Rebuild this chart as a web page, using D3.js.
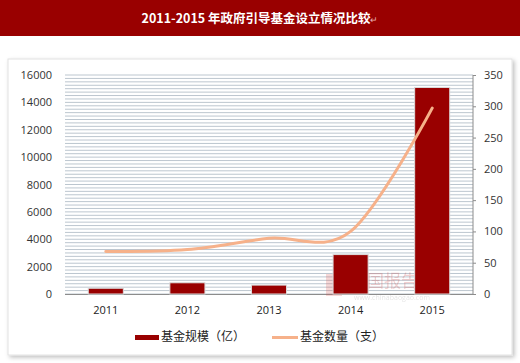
<!DOCTYPE html>
<html><head><meta charset="utf-8">
<script src="https://cdn.jsdelivr.net/npm/d3@7"></script>
<style>body{margin:0;background:#fff;}svg{display:block;}</style>
</head><body>
<svg id="c" width="520" height="363"></svg>
<script>
const title = "2011-2015 年政府引导基金设立情况比较";
const categories = ["2011", "2012", "2013", "2014", "2015"];
const fundScale = [420, 820, 650, 2880, 15090];     // 基金规模（亿）
const fundCount = [68, 71, 89, 100, 297];          // 基金数量（支）
const leftTicks = [0, 2000, 4000, 6000, 8000, 10000, 12000, 14000, 16000];
const rightTicks = [0, 50, 100, 150, 200, 250, 300, 350];
const legendLabels = ["基金规模（亿）", "基金数量（支）"];

const svg = d3.select("#c");
const cjk = "'Noto Sans CJK SC', sans-serif";
const latin = "'Open Sans', 'Noto Sans', sans-serif";

// title bar
svg.append("rect").attr("x", 0).attr("y", 0).attr("width", 520).attr("height", 36).attr("fill", "#990000");
const tt = svg.append("text").attr("x", 260).attr("y", 23).attr("text-anchor", "middle")
  .attr("fill", "#fff").attr("font-family", cjk).attr("font-weight", "bold").attr("font-size", 12.5);
tt.append("tspan").text(title);
tt.append("tspan").attr("fill", "#e8b0b0").attr("font-size", 9).attr("font-weight", "normal").text("↵");

// card with shadow
const defs = svg.append("defs");
const f = defs.append("filter").attr("id", "sh").attr("x", "-5%").attr("y", "-5%").attr("width", "110%").attr("height", "115%");
f.append("feDropShadow").attr("dx", 2).attr("dy", 2).attr("stdDeviation", 2).attr("flood-color", "#000").attr("flood-opacity", 0.25);
svg.append("rect").attr("x", 8).attr("y", 59).attr("width", 504).attr("height", 296)
  .attr("fill", "#fff").attr("stroke", "#e2e2e2").attr("filter", "url(#sh)");

const m = {l: 65, r: 473, t: 75, b: 294};
const x = d3.scaleBand().domain(categories).range([m.l, m.r]).paddingInner(0.57).paddingOuter(0.285);
const yL = d3.scaleLinear().domain([0, 16000]).range([m.b, m.t]);
const yR = d3.scaleLinear().domain([0, 350]).range([m.b, m.t]);

// pattern grid lines
const gridVals = d3.range(0, 16000 + 1, 250);
svg.append("g").selectAll("line").data(gridVals).join("line")
  .attr("x1", m.l).attr("x2", m.r).attr("y1", d => yL(d)).attr("y2", d => yL(d))
  .attr("stroke", "#bcc6cf").attr("stroke-width", 1);

// bottom axis line
svg.append("line").attr("x1", m.l).attr("x2", m.r).attr("y1", m.b + 0.5).attr("y2", m.b + 0.5).attr("stroke", "#8c8c8c");

// left axis
const gl = svg.append("g").attr("transform", `translate(${m.l - 9},0)`)
  .call(d3.axisLeft(yL).tickValues(leftTicks).tickSize(0).tickPadding(4).tickFormat(d3.format("d")));
gl.select(".domain").remove();
gl.selectAll("text").attr("font-family", latin).attr("font-size", 11).attr("fill", "#333");

// right axis
const gr = svg.append("g").attr("transform", `translate(${m.r},0)`)
  .call(d3.axisRight(yR).tickValues(rightTicks).tickSize(3).tickPadding(8));
gr.select(".domain").attr("stroke", "#8c8c8c").attr("d", `M0,${m.t}V${m.b}`);
gr.selectAll(".tick line").attr("stroke", "#8c8c8c");
gr.selectAll("text").attr("font-family", latin).attr("font-size", 11).attr("fill", "#333");

// bottom labels
const gb = svg.append("g").attr("transform", `translate(0,${m.b})`)
  .call(d3.axisBottom(x).tickSize(0).tickPadding(12));
gb.select(".domain").remove();
gb.selectAll("text").attr("font-family", latin).attr("font-size", 11).attr("fill", "#222");

// watermark
const wm = svg.append("g").attr("opacity", 0.22);
wm.append("text").attr("x", 350).attr("y", 287).attr("font-family", cjk).attr("font-size", 17).attr("fill", "#cc3333").text("中国报告网");
wm.append("text").attr("x", 354).attr("y", 300).attr("font-family", latin).attr("font-size", 7).attr("fill", "#888").text("www.chinabaogao.com");
wm.append("rect").attr("x", 326).attr("y", 274).attr("width", 16).attr("height", 22).attr("fill", "#d9534f");

// bars
svg.append("g").selectAll("rect").data(categories).join("rect")
  .attr("x", d => x(d)).attr("width", x.bandwidth())
  .attr("y", (d, i) => yL(fundScale[i])).attr("height", (d, i) => m.b - yL(fundScale[i]))
  .attr("fill", "#990000").attr("stroke", "#dcdcdc").attr("stroke-width", 1);

// line
const line = d3.line().x((d, i) => x(categories[i]) + x.bandwidth() / 2).y(d => yR(d))
  .curve(d3.curveCardinal.tension(0));
svg.append("path").datum(fundCount).attr("d", line).attr("fill", "none")
  .attr("stroke", "#f6b18a").attr("stroke-width", 3).attr("stroke-linecap", "round");

// legend
svg.append("rect").attr("x", 135).attr("y", 335).attr("width", 24).attr("height", 5).attr("fill", "#990000");
svg.append("text").attr("x", 161).attr("y", 341).attr("font-family", cjk).attr("font-size", 12).attr("fill", "#222").text(legendLabels[0]);
svg.append("line").attr("x1", 272).attr("x2", 298).attr("y1", 337.5).attr("y2", 337.5).attr("stroke", "#f6b18a").attr("stroke-width", 3);
svg.append("text").attr("x", 300).attr("y", 341).attr("font-family", cjk).attr("font-size", 12).attr("fill", "#222").text(legendLabels[1]);
</script>
</body></html>
